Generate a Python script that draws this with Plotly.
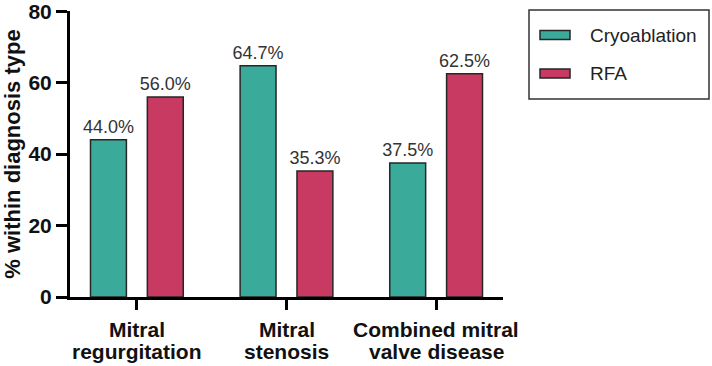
import plotly.graph_objects as go

categories = ["Mitral<br>regurgitation", "Mitral<br>stenosis", "Combined mitral<br>valve disease"]
series_names = ["Cryoablation", "RFA"]
cryo_values = [44.0, 64.7, 37.5]
rfa_values = [56.0, 35.3, 62.5]
y_ticks = [0, 20, 40, 60, 80]

colors = ["#3AAA9A", "#C93A63"]
outline = "#262626"
font_family = "Liberation Sans, Arial, Helvetica, sans-serif"

fig = go.Figure()
for name, vals, col, off in [(series_names[0], cryo_values, colors[0], -0.31),
                             (series_names[1], rfa_values, colors[1], 0.07)]:
    fig.add_trace(go.Bar(
        x=categories, y=vals, name=name,
        marker=dict(color=col, line=dict(color=outline, width=1.5)),
        width=0.24, offset=off,
        text=[f"{v:.1f}%" for v in vals], textposition="outside",
        constraintext="none",
        textfont=dict(family=font_family, size=18, color="#333333"),
        cliponaxis=False, showlegend=False,
    ))

fig.update_layout(
    width=712, height=366,
    margin=dict(l=70, r=209, t=11, b=69),
    paper_bgcolor="white", plot_bgcolor="white",
    barmode="overlay",
    font=dict(family=font_family, color="#111111"),
    xaxis=dict(
        type="category", range=[-0.447, 2.447], automargin=False,
        showline=True, linecolor="black", linewidth=3,
        ticks="outside", ticklen=10, tickwidth=3, tickcolor="black",
        showticklabels=False,
        showgrid=False, zeroline=False,
    ),
    yaxis=dict(
        range=[0, 80.05], tickvals=y_ticks, automargin=False,
        showline=True, linecolor="black", linewidth=3,
        ticks="outside", ticklen=11, tickwidth=3, tickcolor="black",
        ticklabeloverflow="allow",
        tickfont=dict(family=font_family, size=21, color="#111111", weight="bold"),
        showgrid=False, zeroline=False,
        title=dict(text="% within diagnosis type", standoff=8,
                   font=dict(family=font_family, size=22, color="#111111", weight="bold")),
    ),
)

# category labels (two tight lines each)
for cat in categories:
    for j, line in enumerate(cat.split("<br>")):
        fig.add_annotation(xref="x", yref="paper", x=cat, y=0,
                           xanchor="center", yanchor="middle", showarrow=False,
                           yshift=-(32 + 22 * j), text=line,
                           font=dict(family=font_family, size=21, color="#111111", weight="bold"))

# custom legend box
fig.add_shape(type="rect", xref="paper", yref="paper",
              x0=(529 - 70) / 433, x1=(709 - 70) / 433,
              y0=(297 - 99) / 286, y1=(297 - 10) / 286,
              line=dict(color="#333333", width=1.5), fillcolor="rgba(0,0,0,0)")
for i, (name, col) in enumerate(zip(series_names, colors)):
    cy = 35 + i * 38.5
    fig.add_shape(type="rect", xref="paper", yref="paper",
                  x0=(540 - 70) / 433, x1=(570 - 70) / 433,
                  y0=(297 - cy - 4.5) / 286, y1=(297 - cy + 4.5) / 286,
                  line=dict(color=outline, width=1.5), fillcolor=col)
    fig.add_annotation(xref="paper", yref="paper",
                       x=(588 - 70) / 433, y=(297 - cy) / 286,
                       xanchor="left", yanchor="middle", showarrow=False,
                       text=name, font=dict(family=font_family, size=19, color="#222222"))

fig.write_html("out.html")
